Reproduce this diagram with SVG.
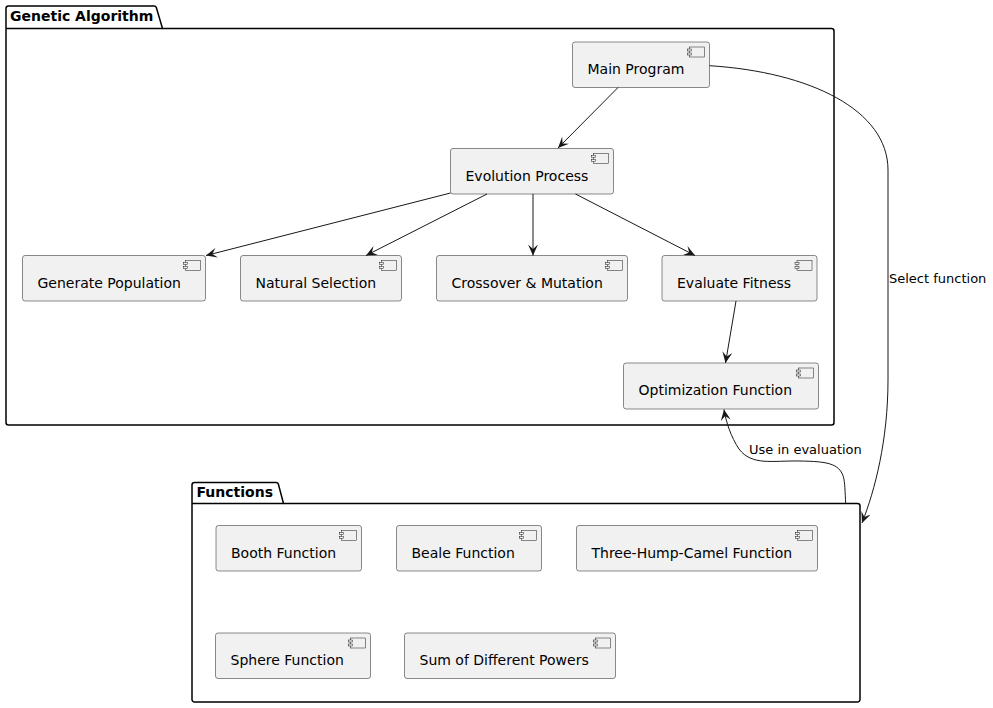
<svg xmlns="http://www.w3.org/2000/svg" width="993" height="708" viewBox="0 0 993 708">
<defs>
<style>
.pkg{fill:none;stroke:#000;stroke-width:1.5}
.ptitle{font-family:"DejaVu Sans",sans-serif;font-size:14px;font-weight:bold;fill:#000}
.node rect.box{fill:#F1F1F1;stroke:#181818;stroke-width:0.5}
.icon{fill:#F1F1F1;stroke:#181818;stroke-width:0.5}
.label{font-family:"DejaVu Sans",sans-serif;font-size:14px;fill:#000}
.edge{fill:none;stroke:#181818;stroke-width:1}
.elabel{font-family:"DejaVu Sans",sans-serif;font-size:13px;fill:#000}
</style>
<marker id="arr" viewBox="0 0 11 10" refX="11" refY="5" markerWidth="11" markerHeight="10" markerUnits="userSpaceOnUse" orient="auto">
<path d="M11,5 L0,0 L4.5,5 L0,10 Z" fill="#181818"/>
</marker>
<g id="cicon">
<rect class="icon" x="-20" y="5" width="15" height="10"/>
<rect class="icon" x="-22" y="7" width="4" height="2"/>
<rect class="icon" x="-22" y="11" width="4" height="2"/>
</g>
</defs>
<rect width="993" height="708" fill="#fff"/>

<g id="pkg-genetic">
<path class="pkg" d="M8.5,6 L154,6 A2.5,2.5 0 0 1 156.4,7.8 L162.5,28.5 L831.5,28.5 A2.5,2.5 0 0 1 834,31 L834,422.5 A2.5,2.5 0 0 1 831.5,425 L8.5,425 A2.5,2.5 0 0 1 6,422.5 L6,8.5 A2.5,2.5 0 0 1 8.5,6 Z"/>
<line class="pkg" x1="6" y1="28.5" x2="162.5" y2="28.5"/>
<text class="ptitle" x="10" y="21">Genetic Algorithm</text>
</g>

<g id="pkg-functions">
<path class="pkg" d="M194.5,482.5 L276,482.5 A2.5,2.5 0 0 1 278.4,484.3 L283.5,503.5 L857.5,503.5 A2.5,2.5 0 0 1 860,506 L860,699.5 A2.5,2.5 0 0 1 857.5,702 L194.5,702 A2.5,2.5 0 0 1 192,699.5 L192,485 A2.5,2.5 0 0 1 194.5,482.5 Z"/>
<line class="pkg" x1="192" y1="503.5" x2="283.5" y2="503.5"/>
<text class="ptitle" x="196.5" y="497">Functions</text>
</g>

<g id="node-main" class="node">
<rect class="box" x="572.5" y="42" width="137" height="45.5" rx="2.5"/>
<use href="#cicon" x="709.5" y="42"/>
<text class="label" x="587.5" y="74">Main Program</text>
</g>
<g id="node-evolution" class="node">
<rect class="box" x="450.5" y="148.5" width="163" height="45.5" rx="2.5"/>
<use href="#cicon" x="613.5" y="148.5"/>
<text class="label" x="465.5" y="180.5">Evolution Process</text>
</g>
<g id="node-generate" class="node">
<rect class="box" x="22.5" y="255.5" width="183" height="45.5" rx="2.5"/>
<use href="#cicon" x="205.5" y="255.5"/>
<text class="label" x="37.5" y="287.5">Generate Population</text>
</g>
<g id="node-selection" class="node">
<rect class="box" x="240.5" y="255.5" width="161" height="45.5" rx="2.5"/>
<use href="#cicon" x="401.5" y="255.5"/>
<text class="label" x="255.5" y="287.5">Natural Selection</text>
</g>
<g id="node-crossover" class="node">
<rect class="box" x="436.5" y="255.5" width="191" height="45.5" rx="2.5"/>
<use href="#cicon" x="627.5" y="255.5"/>
<text class="label" x="451.5" y="287.5">Crossover &amp; Mutation</text>
</g>
<g id="node-fitness" class="node">
<rect class="box" x="662" y="255.5" width="155" height="45.5" rx="2.5"/>
<use href="#cicon" x="817" y="255.5"/>
<text class="label" x="677" y="287.5">Evaluate Fitness</text>
</g>
<g id="node-optimization" class="node">
<rect class="box" x="623.5" y="363" width="195" height="46" rx="2.5"/>
<use href="#cicon" x="818.5" y="363"/>
<text class="label" x="638.5" y="395">Optimization Function</text>
</g>
<g id="node-booth" class="node">
<rect class="box" x="216" y="525.5" width="145.5" height="45.5" rx="2.5"/>
<use href="#cicon" x="361.5" y="525.5"/>
<text class="label" x="231" y="557.5">Booth Function</text>
</g>
<g id="node-beale" class="node">
<rect class="box" x="396.5" y="525.5" width="145" height="45.5" rx="2.5"/>
<use href="#cicon" x="541.5" y="525.5"/>
<text class="label" x="411.5" y="557.5">Beale Function</text>
</g>
<g id="node-camel" class="node">
<rect class="box" x="576.5" y="525.5" width="241" height="45.5" rx="2.5"/>
<use href="#cicon" x="817.5" y="525.5"/>
<text class="label" x="591.5" y="557.5">Three-Hump-Camel Function</text>
</g>
<g id="node-sphere" class="node">
<rect class="box" x="215.5" y="633" width="155" height="45.5" rx="2.5"/>
<use href="#cicon" x="370.5" y="633"/>
<text class="label" x="230.5" y="665">Sphere Function</text>
</g>
<g id="node-powers" class="node">
<rect class="box" x="404.5" y="633" width="211" height="45.5" rx="2.5"/>
<use href="#cicon" x="615.5" y="633"/>
<text class="label" x="419.5" y="665">Sum of Different Powers</text>
</g>

<g id="connectors">
<line class="edge" x1="618" y1="87.5" x2="558" y2="148" marker-end="url(#arr)"/>
<line class="edge" x1="450.5" y1="193" x2="206" y2="255.5" marker-end="url(#arr)"/>
<line class="edge" x1="487" y1="194" x2="366" y2="255.5" marker-end="url(#arr)"/>
<line class="edge" x1="533" y1="194" x2="533" y2="255.5" marker-end="url(#arr)"/>
<line class="edge" x1="575.5" y1="194" x2="695" y2="255.5" marker-end="url(#arr)"/>
<line class="edge" x1="736" y1="301" x2="725.5" y2="363" marker-end="url(#arr)"/>
<path class="edge" d="M709.5,65.7 C810,72 888,110 888,170 L888,380 C888,440 875,490 862,523" marker-end="url(#arr)"/>
<text class="elabel" x="889" y="283">Select function</text>
<path class="edge" d="M845.7,503.5 C845,492 845,482 843.3,476.5 C839,463 826,461.5 800,461 C772,460.5 752,466 739,449 C731,437 726,422 724,409.5" marker-end="url(#arr)"/>
<text class="elabel" x="749" y="454">Use in evaluation</text>
</g>
</svg>
